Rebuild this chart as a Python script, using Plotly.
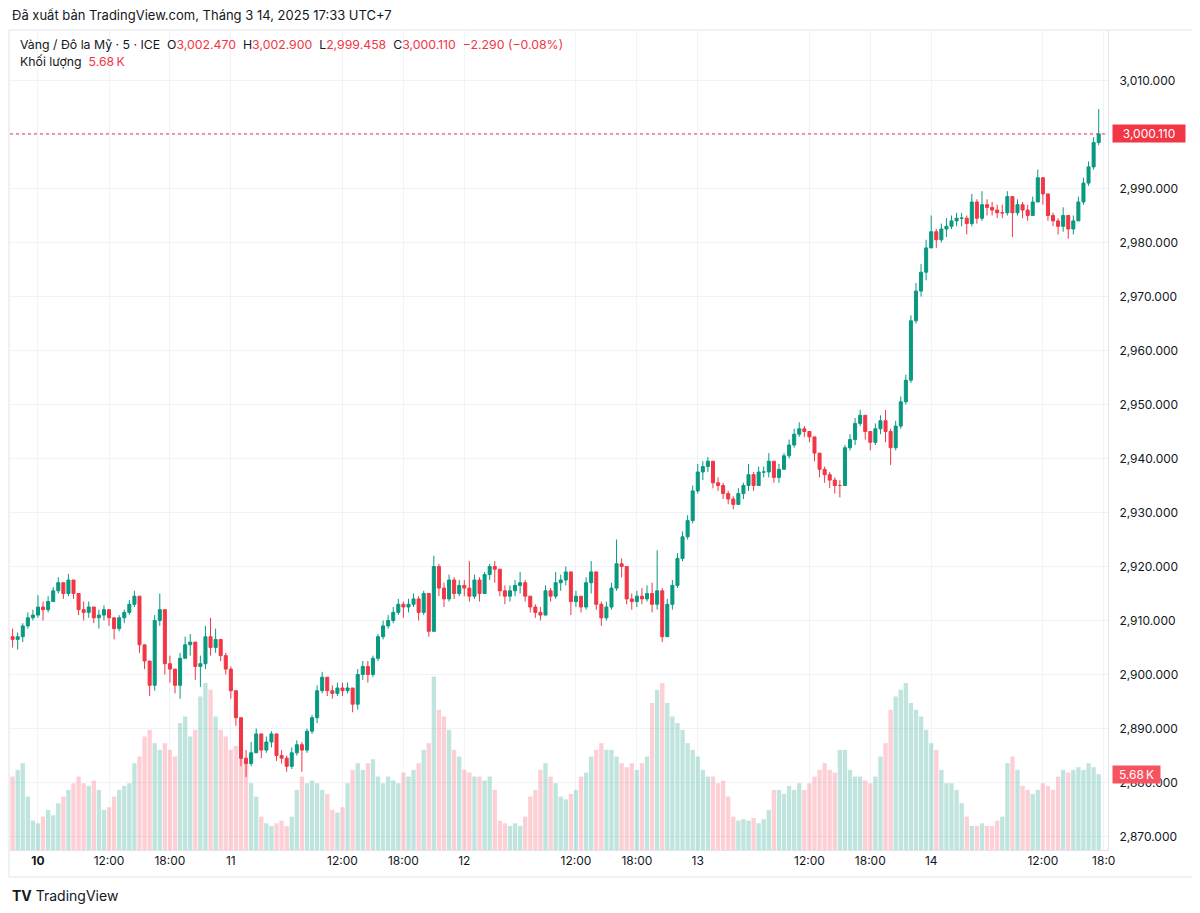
import pandas as pd
import plotly.graph_objects as go

UP = "#089981"
DOWN = "#f23645"
TEXT = "#131722"
GRID = "#f0f3fa"
FONT = "Inter, Roboto, sans-serif"

# 30-minute bars; each session: (first bar time UTC+7, number of bars)
sessions = [
    ("2025-03-08 01:30", 5),
    ("2025-03-10 05:00", 46),
    ("2025-03-11 05:00", 46),
    ("2025-03-12 05:00", 46),
    ("2025-03-13 05:00", 46),
    ("2025-03-14 05:00", 26),
]

first_open = 2907.0
closes = [
    2906.5, 2907, 2909, 2910.5, 2911, 2912.5, 2912, 2913.5, 2915.5, 2917,
    2915, 2917.5, 2915, 2912, 2911.5, 2912.5, 2910.5, 2911, 2912, 2910.5,
    2908.5, 2910.5, 2911.5, 2913, 2914.5, 2905.5, 2902.5, 2898, 2910, 2912,
    2902, 2901, 2898, 2903, 2905.5, 2906, 2901.5, 2902, 2907, 2905,
    2906.5, 2903.5, 2901, 2897, 2892, 2884.5, 2883.5, 2885.5, 2889, 2886,
    2887.5, 2889, 2885, 2884.5, 2883, 2885.5, 2887, 2886, 2889.5, 2892,
    2897, 2899.5, 2897, 2896.5, 2897.5, 2897, 2897.5, 2894.5, 2900, 2901.5,
    2900, 2903, 2907, 2909, 2910, 2911.5, 2913, 2912.5, 2913, 2914,
    2911.5, 2915, 2908, 2920, 2916, 2914, 2917.5, 2915, 2916.5, 2916,
    2914.5, 2917.5, 2915, 2918.5, 2920, 2919.5, 2915.5, 2914.5, 2915.5, 2916.5,
    2917, 2914.5, 2912.5, 2911.5, 2911, 2915.5, 2914.5, 2917, 2917.5, 2919,
    2913.5, 2914.5, 2912.5, 2917, 2919, 2913, 2910.5, 2912.5, 2916, 2920.5,
    2920, 2914, 2913.5, 2914.5, 2914, 2915, 2913, 2915.5, 2907, 2913,
    2916.5, 2921.5, 2925.5, 2928.5, 2934, 2937.5, 2938.5, 2939.5, 2935.5, 2935,
    2933.5, 2932.5, 2931.5, 2933.5, 2935, 2937, 2935, 2937.5, 2937.5, 2939.5,
    2936.5, 2938, 2940.5, 2942.5, 2944.5, 2945.5, 2945, 2944, 2941, 2938,
    2937, 2936, 2935, 2935, 2942, 2943.5, 2946.5, 2948, 2945, 2943,
    2945.5, 2947, 2945, 2942, 2946, 2950.5, 2954.5, 2965.5, 2971, 2974.5,
    2979, 2982, 2980.5, 2982.5, 2983, 2984, 2984.5, 2984.5, 2983.5, 2987.5,
    2984.5, 2987, 2986.5, 2986, 2985.5, 2985.5, 2988.5, 2985.5, 2987, 2986,
    2985, 2987.5, 2992, 2989, 2985, 2984, 2983, 2985, 2982.5, 2984,
    2987.5, 2991, 2994, 2998.5, 3000.11,
]
highs = [
    2908.5, 2907.8, 2909.5, 2911.5, 2912, 2914.7, 2913.5, 2914.5, 2916.2, 2918,
    2917, 2918.6, 2917.5, 2915, 2913.5, 2913.5, 2912.5, 2912, 2912.8, 2911.5,
    2910.5, 2911, 2912, 2913.8, 2915.5, 2914, 2905, 2902, 2911, 2915,
    2910, 2903.5, 2901, 2904, 2907, 2907.5, 2906, 2903.5, 2909, 2910.5,
    2908.5, 2906.5, 2904, 2901.5, 2896, 2889, 2886, 2887.5, 2890, 2889,
    2888.5, 2889.5, 2888, 2886, 2885, 2886.5, 2887.8, 2887.5, 2890, 2892.5,
    2898, 2900.5, 2899.5, 2898, 2898.5, 2898.5, 2898.5, 2897.5, 2901, 2902.5,
    2902.5, 2903.5, 2907.5, 2910, 2911, 2912.5, 2914, 2913.5, 2914, 2915,
    2914.5, 2915.5, 2913, 2922, 2920.5, 2917, 2918.5, 2918, 2917.5, 2917.5,
    2921, 2918.5, 2918, 2919, 2920.5, 2921, 2919, 2916.5, 2916.5, 2917.5,
    2919, 2917.5, 2914.5, 2913, 2912.5, 2916.5, 2916, 2919, 2918.5, 2920,
    2918.5, 2915.5, 2914.5, 2918, 2921, 2918.5, 2913.5, 2913.5, 2917, 2925,
    2921.5, 2920, 2915, 2915.5, 2916, 2916.5, 2917, 2923, 2916, 2914,
    2917.5, 2922.5, 2926.5, 2929.5, 2935, 2939, 2939.5, 2940.3, 2938.5, 2936.5,
    2935.5, 2934, 2933, 2934.5, 2935.5, 2939, 2937.5, 2938.5, 2938.5, 2941,
    2939.5, 2939, 2941, 2943.5, 2945.5, 2946.7, 2946, 2945, 2944, 2941,
    2938.5, 2937.5, 2936.5, 2936, 2942.5, 2944.5, 2947.5, 2949, 2948, 2945,
    2946.5, 2948, 2949, 2945.5, 2947, 2951.5, 2955.5, 2966.5, 2972.5, 2976,
    2980.5, 2985, 2982.5, 2983.5, 2984.5, 2985, 2985.5, 2985.5, 2985, 2989,
    2988, 2989.5, 2988, 2987.5, 2987, 2987, 2989.5, 2988.5, 2988, 2987.5,
    2987, 2988.5, 2993.5, 2992, 2989, 2985.5, 2984.5, 2986.5, 2985, 2985,
    2988.5, 2992, 2995, 2999.5, 3004.7,
]
lows = [
    2905, 2904.6, 2906, 2908.5, 2910, 2910.5, 2910, 2911.5, 2914, 2915,
    2914, 2914.5, 2914, 2911, 2910, 2910.5, 2909.5, 2908.5, 2910, 2909,
    2906.5, 2908, 2909.5, 2911, 2912.5, 2904, 2901, 2896, 2897, 2909,
    2900, 2898.5, 2896.5, 2895.5, 2903, 2903.5, 2899, 2897.7, 2901, 2903.5,
    2904, 2902.5, 2900, 2895.5, 2890.5, 2883, 2881, 2883, 2885.5, 2884.5,
    2885.5, 2886.5, 2884, 2883.5, 2882, 2882.5, 2885, 2882, 2885.5, 2889,
    2891, 2896.5, 2896, 2895.5, 2896, 2896, 2896.5, 2893, 2893.5, 2899,
    2898.5, 2899.5, 2902.5, 2906.5, 2908.5, 2909.5, 2911, 2910.5, 2911.5, 2912.5,
    2910, 2911, 2907, 2908, 2914.5, 2912.5, 2913.5, 2914, 2914.5, 2914.5,
    2913.5, 2914, 2913.5, 2915, 2917.5, 2917, 2914.5, 2913, 2913.5, 2914.5,
    2915, 2913.5, 2911.5, 2910.5, 2910, 2911, 2913.5, 2914, 2915.5, 2916.5,
    2911, 2912.5, 2911.5, 2912, 2915, 2912, 2909, 2910, 2912, 2915.5,
    2918, 2913, 2912, 2912.5, 2913, 2913.5, 2911.5, 2912, 2906, 2907,
    2912, 2916, 2921, 2925, 2928, 2933.5, 2936, 2937.5, 2934.5, 2934,
    2932.5, 2931.5, 2930.6, 2931.5, 2932.5, 2934, 2934, 2935, 2936.5, 2936.5,
    2935.5, 2935.5, 2938, 2940, 2942, 2944, 2944, 2943, 2939.5, 2936.5,
    2935.5, 2934.5, 2933.5, 2932.8, 2935, 2941.5, 2942.5, 2946, 2943.5, 2941.5,
    2942.5, 2944.5, 2943, 2938.8, 2941.5, 2945.5, 2950, 2954, 2965, 2970,
    2973, 2979.5, 2979, 2980, 2981, 2982.5, 2983, 2983, 2981.5, 2983,
    2983.5, 2984, 2985, 2985, 2984.5, 2984.5, 2985, 2981, 2985, 2984.5,
    2984, 2985.5, 2987.5, 2987, 2984, 2983, 2981.5, 2982, 2980.7, 2981.5,
    2984, 2987, 2990.5, 2993.5, 2998,
]
# volume, thousands (typical 5-minute level)
volumes = [
    5.5, 6, 6.5, 4, 2.2, 2.0, 2.5, 3, 2.6, 3.5,
    4, 4.5, 5, 5.5, 5, 4.8, 5.2, 4.5, 3, 3.2,
    4, 4.5, 4.8, 5, 6.5, 7, 8.5, 9, 8, 7.5,
    8, 7.5, 7, 9.5, 10, 8.5, 9, 11.5, 12.5, 12,
    10, 9, 8.5, 7.5, 7.8, 7, 6.5, 5, 4, 2.5,
    2, 1.8, 2, 2.2, 1.8, 2.5, 4.5, 5.5, 5, 5.2,
    5, 4.5, 4.2, 3, 2.8, 3.2, 5, 6, 6.5, 6,
    6.5, 6.8, 5.5, 5, 5.5, 5.2, 5, 5.8, 5.5, 6,
    6.5, 7.5, 8, 13, 10.5, 10, 9, 7.5, 7, 6,
    5.8, 5.5, 5.5, 5.2, 5.5, 4.5, 2.2, 2, 1.8, 2,
    1.8, 2.5, 4, 4.5, 6, 6.5, 5.5, 5, 4, 3.8,
    4.2, 4.5, 5.5, 5.8, 7, 7.5, 8, 7.5, 7.5, 7,
    6.5, 6.2, 6.5, 6, 6.5, 7, 11, 12, 12.5, 11,
    10, 9.5, 9, 8, 7.5, 7, 6, 5.5, 5.5, 5,
    5.2, 4, 2.5, 2.2, 2.3, 2.2, 2.4, 2, 2.3, 3,
    4.5, 4.5, 4.2, 4.8, 4.5, 5, 4.5, 5, 5.5, 6,
    6.5, 6, 5.8, 7.5, 7.5, 6, 5.5, 5.5, 5.2, 5,
    5.5, 7, 8, 10.5, 11.5, 12, 12.5, 11, 10.5, 10,
    9, 8, 7.5, 6, 5, 5, 4.5, 3.5, 2.5, 1.8,
    1.8, 2, 1.8, 1.8, 2.2, 2.5, 6.5, 7, 6, 4.8,
    4.5, 4.2, 4.5, 5, 4.8, 4.5, 5.5, 6, 5.8, 6,
    6.2, 6, 6.5, 6.2, 5.68,
]

tick_times = [
    "2025-03-10 05:00", "2025-03-10 12:00", "2025-03-10 18:00",
    "2025-03-11 00:00", "2025-03-11 12:00", "2025-03-11 18:00",
    "2025-03-12 00:00", "2025-03-12 12:00", "2025-03-12 18:00",
    "2025-03-13 00:00", "2025-03-13 12:00", "2025-03-13 18:00",
    "2025-03-14 00:00", "2025-03-14 12:00", "2025-03-14 18:00",
]
tick_labels = ["<b>10</b>", "12:00", "18:00", "11", "12:00", "18:00", "12",
               "12:00", "18:00", "13", "12:00", "18:00", "14", "12:00", "18:0"]

title_text = "Đã xuất bản TradingView.com, Tháng 3 14, 2025 17:33 UTC+7"
symbol_text = "Vàng / Đô la Mỹ · 5 · ICE"
ohlc_text = [("O", "3,002.470"), ("H", "3,002.900"), ("L", "2,999.458"), ("C", "3,000.110")]
change_text = "−2.290 (−0.08%)"
volume_name = "Khối lượng"
last_volume_text = "5.68\u2009K"
last_price_text = "3,000.110"
last_price = 3000.11
last_volume = 5.68

times = []
for start, n in sessions:
    times += list(pd.date_range(start, periods=n, freq="30min"))
assert len(times) == len(closes) == len(highs) == len(lows) == len(volumes)

opens = [first_open] + closes[:-1]
highs = [max(h, o, c) for h, o, c in zip(highs, opens, closes)]
lows = [min(l, o, c) for l, o, c in zip(lows, opens, closes)]
vol_colors = ["rgba(8,153,129,0.26)" if c >= o else "rgba(242,54,69,0.23)"
              for o, c in zip(opens, closes)]

# the page body adds an 8px margin, so the figure is drawn 8px in and 8px down
PAGE = 8
W, H = 1200 - PAGE, 913 - PAGE
PLOT_L, PLOT_R, PLOT_T, PLOT_B = 10, 1108, 30, 850   # in window pixels
ML, MR = PLOT_L - PAGE, W - (PLOT_R - PAGE)
MT, MB = PLOT_T - PAGE, H - (PLOT_B - PAGE)


def px_x(px):
    return (px - PLOT_L) / (PLOT_R - PLOT_L)


def px_y(py):
    return (PLOT_B - py) / (PLOT_B - PLOT_T)


fig = go.Figure()
fig.add_trace(go.Bar(
    x=times, y=volumes, yaxis="y2", marker=dict(color=vol_colors, line=dict(width=0)),
    hoverinfo="skip",
))
fig.add_trace(go.Candlestick(
    x=times, open=opens, high=highs, low=lows, close=closes,
    increasing=dict(line=dict(color=UP, width=1), fillcolor=UP),
    decreasing=dict(line=dict(color=DOWN, width=1), fillcolor=DOWN),
    whiskerwidth=0,
))

fig.add_shape(type="line", xref="paper", yref="y", x0=0, x1=1, y0=last_price, y1=last_price,
              line=dict(color=DOWN, width=1, dash="dot"))
fig.add_shape(type="rect", xref="paper", yref="paper",
              x0=px_x(9), x1=px_x(1195), y0=px_y(877), y1=px_y(30),
              line=dict(color="#e0e3eb", width=1), layer="below")

legend_line = symbol_text + "\u00a0\u00a0" + "\u00a0 ".join(
    f"{k}<span style='color:{DOWN}'>{v}</span>" for k, v in ohlc_text
) + f"<span style='color:{DOWN}'>\u00a0 {change_text}</span>"

annotations = [
    dict(x=px_x(10), y=px_y(15), text=title_text, font=dict(size=13, color=TEXT)),
    dict(x=px_x(18), y=px_y(44), text=legend_line, font=dict(size=12.3, color=TEXT)),
    dict(x=px_x(18), y=px_y(61),
         text=f"{volume_name}\u00a0 <span style='color:{DOWN}'>{last_volume_text}</span>",
         font=dict(size=12.3, color=TEXT)),
    dict(x=px_x(10), y=px_y(895), text="<b>TV</b> TradingView", font=dict(size=14, color=TEXT)),
]
for a in annotations:
    a.update(xref="paper", yref="paper", xanchor="left", yanchor="middle", showarrow=False)

annotations += [
    dict(x=px_x(1112), y=last_price, xref="paper", yref="y", xanchor="left", yanchor="middle",
         text=last_price_text, showarrow=False, bgcolor=DOWN, borderpad=1,
         width=70, height=15, align="center",
         font=dict(size=12, color="white")),
    dict(x=px_x(1112), y=last_volume, xref="paper", yref="y2", xanchor="left", yanchor="middle",
         text=last_volume_text, showarrow=False, bgcolor="#f7525f", borderpad=1,
         width=45, height=15, align="center",
         font=dict(size=12, color="white")),
]

fig.update_layout(
    width=W, height=H,
    margin=dict(l=ML, r=MR, t=MT, b=MB),
    paper_bgcolor="white", plot_bgcolor="white",
    font=dict(family=FONT, color=TEXT),
    showlegend=False,
    bargap=0.15,
    boxgap=0.15,
    annotations=annotations,
    xaxis=dict(
        range=["2025-03-08 01:14:36", "2025-03-14 18:25"],
        rangebreaks=[
            dict(bounds=["2025-03-08 04:00", "2025-03-10 05:00"]),
            dict(bounds=[4, 5], pattern="hour"),
        ],
        tickvals=tick_times, ticktext=tick_labels,
        tickfont=dict(size=12, color=TEXT),
        showgrid=True, gridcolor=GRID, ticks="",
        showline=True, linecolor="#e0e3eb",
        rangeslider=dict(visible=False),
        zeroline=False,
    ),
    yaxis=dict(
        side="right", range=[2867.5, 3019.35], dtick=10, tick0=0,
        tickformat=",.3f", tickfont=dict(size=12, color=TEXT),
        showgrid=True, gridcolor=GRID, ticks="", ticklabelstandoff=8,
        showline=True, linecolor="#e0e3eb", zeroline=False,
    ),
    yaxis2=dict(overlaying="y", range=[0, 61.4], visible=False),
)

fig.write_html("out.html")
